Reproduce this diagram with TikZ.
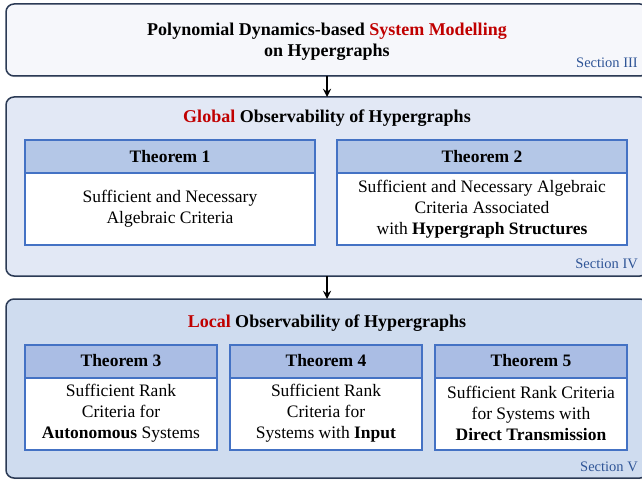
\documentclass[tikz,border=0pt]{standalone}
\usepackage{fontspec}
\setmainfont{Liberation Serif}
\usetikzlibrary{positioning,shadows}
\definecolor{panelline}{HTML}{2B3A55}
\definecolor{panelA}{HTML}{F6F7FB}
\definecolor{panelB}{HTML}{E2E8F5}
\definecolor{panelC}{HTML}{CFDCEF}
\definecolor{theoline}{HTML}{4472C4}
\definecolor{headA}{HTML}{B4C7E7}
\definecolor{headB}{HTML}{AABDE4}
\definecolor{keyred}{HTML}{C00000}
\definecolor{secblue}{HTML}{2F5597}
\tikzset{>=stealth,
  panel/.style={draw=panelline, line width=1.5pt, rounded corners=8pt, minimum width=642pt,
    minimum height=179pt, inner sep=0pt, outer sep=0pt,
    drop shadow={shadow xshift=0.8pt, shadow yshift=-1.2pt, opacity=.3}},
  theohead/.style={draw=theoline, line width=2pt, minimum height=33pt, inner sep=0pt, outer sep=0pt,
    font=\bfseries\fontsize{17.5}{21}\selectfont},
  theobody/.style={draw=theoline, line width=2pt, fill=white, minimum height=72pt, inner sep=0pt,
    outer sep=0pt, align=center, font=\fontsize{17.5}{21}\selectfont},
  title/.style={align=center, font=\bfseries\fontsize{18}{21}\selectfont},
  sec/.style={anchor=east, inner sep=0pt, text=secblue, font=\fontsize{14.5}{17}\selectfont}
}

\begin{document}
\begin{tikzpicture}[x=1pt,y=-1pt]
\useasboundingbox (0,0) rectangle (642,481);
\clip (0,0) rectangle (642,481);
\node [panel, fill=panelA, minimum height=72pt] (model) at (327,40) {};
\node [panel, fill=panelB] (global) at (327,186.5) {};
\node [panel, fill=panelC] (local) at (327,388.5) {};
\draw [->, line width=2.6pt] (model.south) -- (global.north);
\draw [->, line width=2.6pt] (global.south) -- (local.north);
\node [title] (modeltitle) at (327,41.5) {Polynomial Dynamics-based \textcolor{keyred}{System Modelling}\\on Hypergraphs};
\node [title] (globaltitle) at (327,118) {\textcolor{keyred}{Global} Observability of Hypergraphs};
\node [title] (localtitle) at (327,323) {\textcolor{keyred}{Local} Observability of Hypergraphs};
\node [sec] (secthree) at (638,63) {Section III};
\node [sec] (secfour) at (638,264) {Section IV};
\node [sec] (secfive) at (638,467) {Section V};
\node [theohead, fill=headA, minimum width=290pt] (thmone) at (170,156.5) {Theorem 1};
\node [theobody, minimum width=290pt, below=0pt of thmone] (thmonebody) {Sufficient and Necessary\\Algebraic Criteria};
\node [theohead, fill=headA, minimum width=290pt] (thmtwo) at (482,156.5) {Theorem 2};
\node [theobody, minimum width=290pt, below=0pt of thmtwo] (thmtwobody) {Sufficient and Necessary Algebraic\\Criteria Associated\\with \textbf{Hypergraph Structures}};
\node [theohead, fill=headB, minimum width=192pt] (thmthree) at (121,361) {Theorem 3};
\node [theobody, minimum width=192pt, below=0pt of thmthree] (thmthreebody) {Sufficient Rank\\Criteria for\\\textbf{Autonomous} Systems};
\node [theohead, fill=headB, minimum width=192pt] (thmfour) at (326,361) {Theorem 4};
\node [theobody, minimum width=192pt, below=0pt of thmfour] (thmfourbody) {Sufficient Rank\\Criteria for\\Systems with \textbf{Input}};
\node [theohead, fill=headB, minimum width=192pt] (thmfive) at (531,361) {Theorem 5};
\node [theobody, minimum width=192pt, below=0pt of thmfive] (thmfivebody) {Sufficient Rank Criteria\\for Systems with\\\textbf{Direct Transmission}};
\end{tikzpicture}
\end{document}
